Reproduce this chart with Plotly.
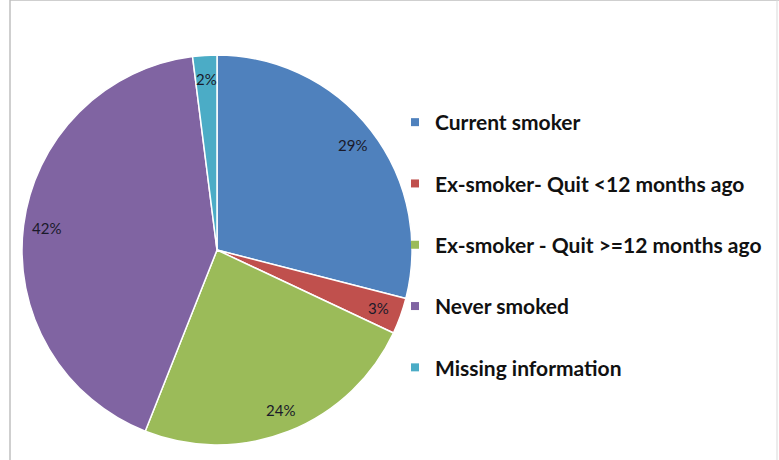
import math
import plotly.graph_objects as go

categories = ["Current smoker", "Ex-smoker- Quit <12 months ago",
              "Ex-smoker - Quit >=12 months ago", "Never smoked", "Missing information"]
values = [29, 3, 24, 42, 2]
colors = ["#4F81BD", "#C0504D", "#9BBB59", "#8064A2", "#4BACC6"]

W, H = 779, 460
# pie placement in pixels
px_left, px_right, px_top, px_bottom = 22, 412, 55, 445
cx = (px_left + px_right) / 2
cy = (px_top + px_bottom) / 2
R = (px_right - px_left) / 2

fig = go.Figure()
fig.add_trace(go.Pie(
    labels=categories, values=values, sort=False, direction="clockwise",
    rotation=0, marker=dict(colors=colors, line=dict(color="white", width=1.5)),
    textinfo="none", hoverinfo="label+percent", showlegend=False,
    domain=dict(x=[px_left / W, px_right / W], y=[1 - px_bottom / H, 1 - px_top / H]),
))

# percent labels near the outer edge (Excel "best fit" style)
total = sum(values)
cum = 0
annotations = []
for v in values:
    mid = (cum + v / 2) / total * 2 * math.pi
    cum += v
    rr = 0.88 * R
    x = cx + rr * math.sin(mid)
    y = cy - rr * math.cos(mid)
    annotations.append(dict(
        x=x / W, y=1 - y / H, xref="paper", yref="paper",
        xanchor="center", yanchor="middle",
        text=f"{round(v / total * 100)}%", showarrow=False,
        font=dict(family="Lato", size=15, color="#1a1a2a"),
    ))

# legend via dummy traces
for name, col in zip(categories, colors):
    fig.add_trace(go.Scatter(
        x=[None], y=[None], mode="markers", name=name, legendgroup=name,
        marker=dict(symbol="square", size=8, color=col),
        hoverinfo="skip",
    ))

fig.update_layout(
    width=W, height=H, margin=dict(l=0, r=0, t=0, b=0),
    paper_bgcolor="white", plot_bgcolor="white",
    xaxis=dict(visible=False), yaxis=dict(visible=False),
    annotations=annotations,
    legend=dict(x=395 / W, y=1 - 102 / H, xanchor="left", yanchor="top",
                traceorder="grouped", tracegroupgap=31,
                font=dict(family="Lato", size=21, color="#111111", weight="bold"),
                itemwidth=30, bgcolor="rgba(0,0,0,0)"),
    shapes=[
        dict(type="line", xref="paper", yref="paper", x0=10 / W, x1=10 / W, y0=0, y1=1,
             line=dict(color="#BFBFBF", width=1.5)),
        dict(type="line", xref="paper", yref="paper", x0=10 / W, x1=1, y0=1, y1=1,
             line=dict(color="#BFBFBF", width=1.5)),
        dict(type="line", xref="paper", yref="paper", x0=777 / W, x1=777 / W, y0=0, y1=1,
             line=dict(color="#D9D9D9", width=1)),
    ],
)

fig.write_html("out.html", config={"displayModeBar": False},
               post_script="document.body.style.margin='0';")
